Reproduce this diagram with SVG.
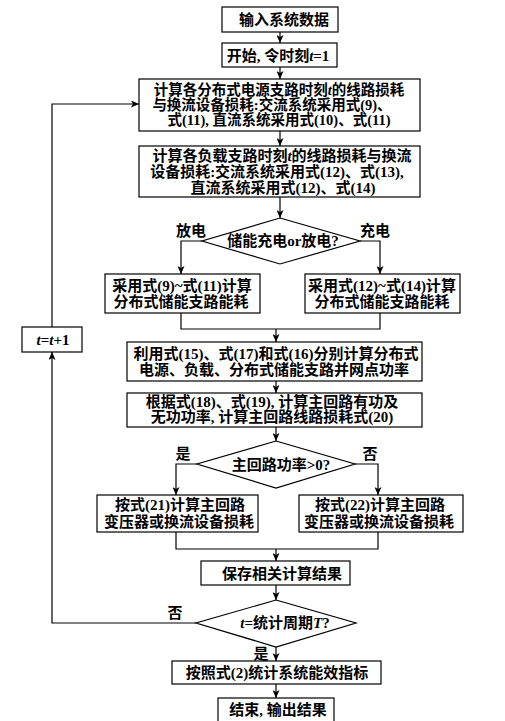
<svg xmlns="http://www.w3.org/2000/svg" width="505" height="721" viewBox="0 0 505 721">
<style>
.b{fill:#fff;stroke:#000;stroke-width:1.2}
.t{font-family:"Liberation Serif","Noto Sans CJK SC",serif;font-size:15px;font-weight:bold;fill:#000;text-anchor:middle}
.s{font-size:14.5px}
.c{fill:none;stroke:#000;stroke-width:1.2}
.i{font-style:italic}
</style>
<defs>
<marker id="a" markerUnits="userSpaceOnUse" markerWidth="8" markerHeight="7" refX="8" refY="3.5" orient="auto">
<path d="M0,0 L8,3.5 L0,7 L2,3.5 z" fill="#000"/>
</marker>
</defs>
<rect width="505" height="721" fill="#fff"/>
<g id="connectors">
<path class="c" d="M280,32 V43" marker-end="url(#a)"/>
<path class="c" d="M280,67 V79" marker-end="url(#a)"/>
<path class="c" d="M280,131 V146" marker-end="url(#a)"/>
<path class="c" d="M280,197 V218" marker-end="url(#a)"/>
<path class="c" d="M202,241 H181 V274" marker-end="url(#a)"/>
<path class="c" d="M360,241 H380 V274" marker-end="url(#a)"/>
<path class="c" d="M181,313 V329 H380 V313"/>
<path class="c" d="M276,329 V342" marker-end="url(#a)"/>
<path class="c" d="M276,381 V393" marker-end="url(#a)"/>
<path class="c" d="M276,427 V441" marker-end="url(#a)"/>
<path class="c" d="M197,464 H176 V495" marker-end="url(#a)"/>
<path class="c" d="M355,464 H378 V495" marker-end="url(#a)"/>
<path class="c" d="M176,532 V549 H378 V532"/>
<path class="c" d="M276,549 V561" marker-end="url(#a)"/>
<path class="c" d="M276,585 V600" marker-end="url(#a)"/>
<path class="c" d="M196,623 H52 V352" marker-end="url(#a)"/>
<path class="c" d="M52,327 V104 H139" marker-end="url(#a)"/>
<path class="c" d="M276,647 V661" marker-end="url(#a)"/>
<path class="c" d="M276,684 V698" marker-end="url(#a)"/>
<text class="t" x="191" y="236">放电</text>
<text class="t" x="375" y="236">充电</text>
<text class="t" x="183" y="459">是</text>
<text class="t" x="370" y="459">否</text>
<text class="t" x="175" y="618">否</text>
<text class="t" x="261" y="659">是</text>
</g>
<g id="n1"><rect class="b" x="222" y="7" width="116" height="25"/><text class="t" x="284" y="25">输入系统数据</text></g>
<g id="n2"><rect class="b" x="222" y="43" width="115" height="24"/><text class="t" x="278" y="61">开始, 令时刻<tspan class="i">t</tspan>=1</text></g>
<g id="n3"><rect class="b" x="139" y="79" width="281" height="52"/>
<text class="t s" x="279" y="95">计算各分布式电源支路时刻<tspan class="i">t</tspan>的线路损耗</text>
<text class="t s" x="272" y="110">与换流设备损耗:交流系统采用式(9)、</text>
<text class="t s" x="279" y="125">式(11), 直流系统采用式(10)、式(11)</text></g>
<g id="n4"><rect class="b" x="139" y="146" width="281" height="51"/>
<text class="t" x="282" y="161">计算各负载支路时刻<tspan class="i">t</tspan>的线路损耗与换流</text>
<text class="t" x="277" y="177">设备损耗:交流系统采用式(12)、式(13),</text>
<text class="t" x="283" y="193">直流系统采用式(12)、式(14)</text></g>
<g id="d1"><polygon class="b" points="280,218 360,241 280,264 202,241"/><text class="t" x="283" y="246">储能充电or放电?</text></g>
<g id="n5"><rect class="b" x="105" y="274" width="155" height="39"/>
<text class="t" x="182" y="291">采用式(9)~式(11)计算</text>
<text class="t" x="181" y="307">分布式储能支路能耗</text></g>
<g id="n6"><rect class="b" x="305" y="274" width="155" height="39"/>
<text class="t" x="382" y="291">采用式(12)~式(14)计算</text>
<text class="t" x="382" y="307">分布式储能支路能耗</text></g>
<g id="n7"><rect class="b" x="127" y="342" width="295" height="39"/>
<text class="t" x="276" y="359">利用式(15)、式(17)和式(16)分别计算分布式</text>
<text class="t" x="274" y="375">电源、负载、分布式储能支路并网点功率</text></g>
<g id="n8"><rect class="b" x="127" y="393" width="295" height="34"/>
<text class="t" x="272" y="407">根据式(18)、式(19), 计算主回路有功及</text>
<text class="t" x="272" y="422">无功功率, 计算主回路线路损耗式(20)</text></g>
<g id="d2"><polygon class="b" points="276,441 355,464 276,488 197,464"/><text class="t" x="281" y="470">主回路功率&gt;0?</text></g>
<g id="n9"><rect class="b" x="97" y="495" width="161" height="37"/>
<text class="t" x="180" y="510">按式(21)计算主回路</text>
<text class="t" x="179" y="527">变压器或换流设备损耗</text></g>
<g id="n10"><rect class="b" x="299" y="495" width="164" height="37"/>
<text class="t" x="380" y="510">按式(22)计算主回路</text>
<text class="t" x="379" y="527">变压器或换流设备损耗</text></g>
<g id="n11"><rect class="b" x="201" y="561" width="149" height="24"/><text class="t" x="282" y="579">保存相关计算结果</text></g>
<g id="d3"><polygon class="b" points="276,600 356,623 276,647 196,623"/><text class="t" x="285" y="628"><tspan class="i">t</tspan>=统计周期<tspan class="i">T</tspan>?</text></g>
<g id="n12"><rect class="b" x="172" y="661" width="209" height="23"/><text class="t" x="277" y="678">按照式(2)统计系统能效指标</text></g>
<g id="n13"><rect class="b" x="218" y="698" width="116" height="30"/><text class="t" x="278" y="715">结束, 输出结果</text></g>
<g id="n14"><rect class="b" x="22" y="327" width="60" height="25"/><text class="t" x="53" y="345"><tspan class="i">t</tspan>=<tspan class="i">t</tspan>+1</text></g>
</svg>
